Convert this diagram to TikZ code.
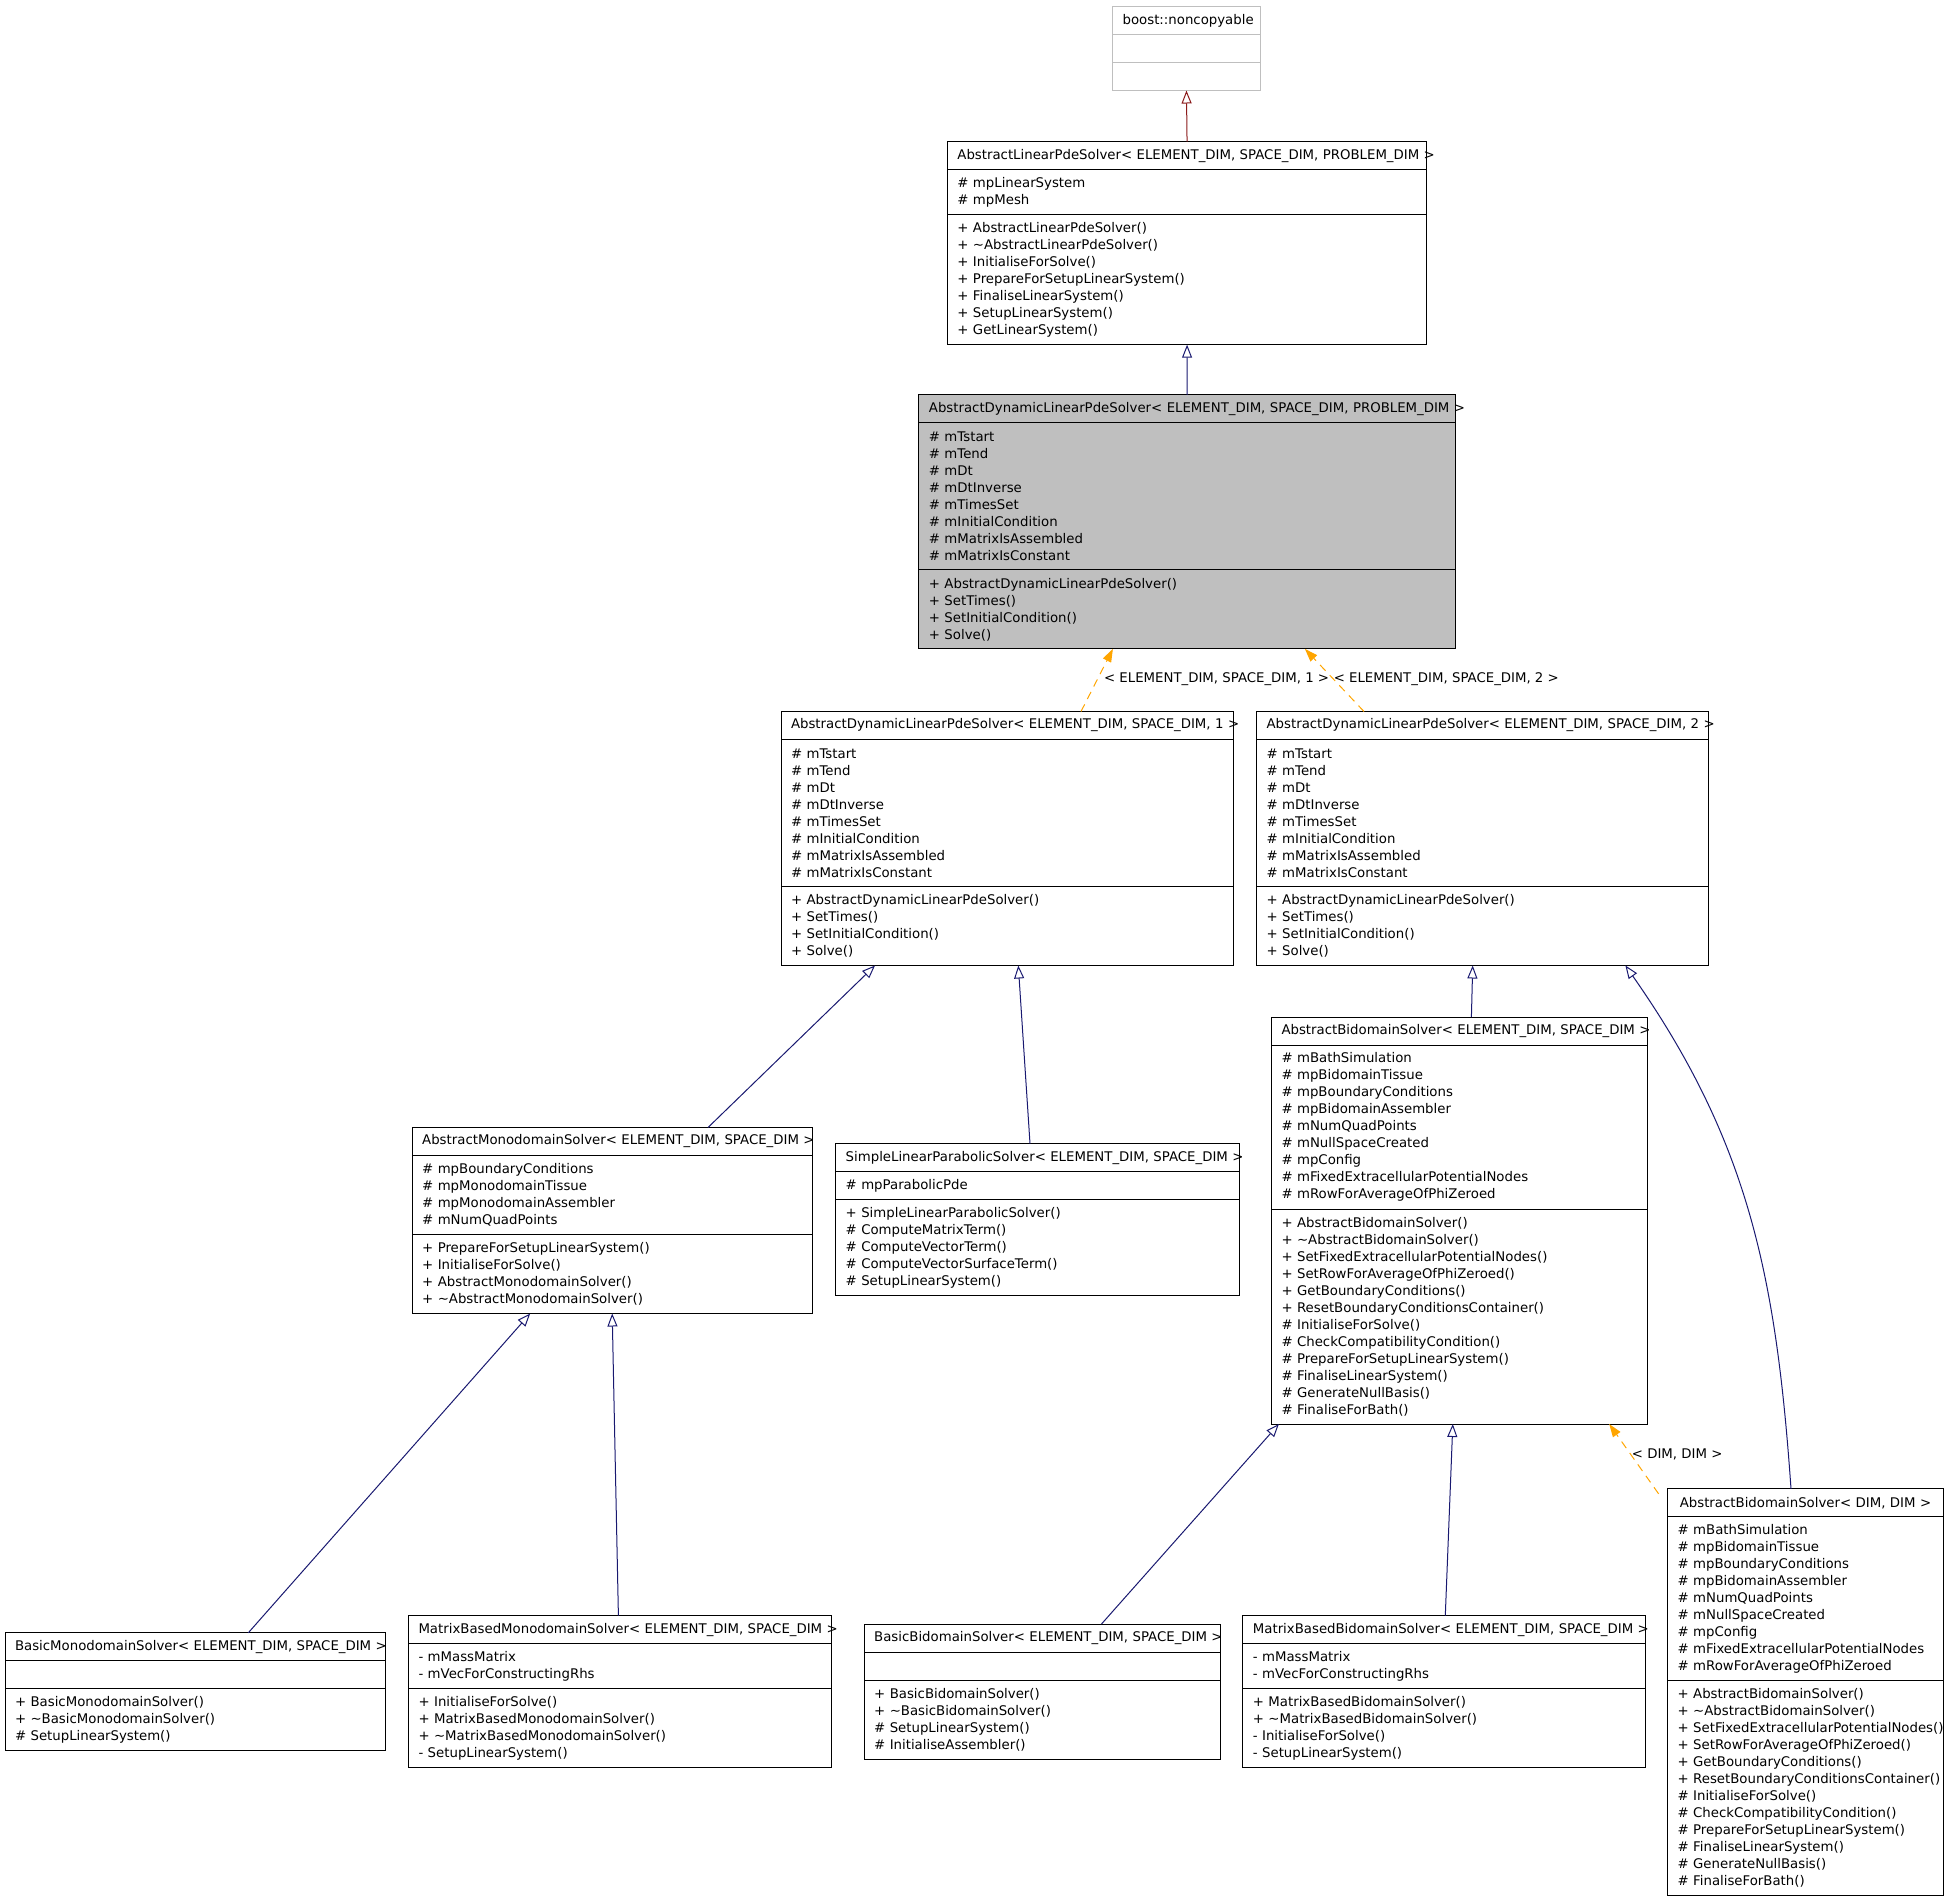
\documentclass[tikz,border=0pt]{standalone}
\usepackage{fontspec}
\setmainfont{DejaVu Sans}
\usetikzlibrary{positioning,arrows.meta}
\definecolor{midnightblue}{RGB}{25,25,112}
\definecolor{firebrick}{RGB}{139,26,26}
\definecolor{dxorange}{RGB}{255,165,0}
\definecolor{boxgray}{RGB}{191,191,191}

\begin{document}
\begin{tikzpicture}[
    x=1pt, y=-1pt,
    font=\fontsize{13.3}{17}\selectfont,
    cls/.style={rectangle, draw, line width=1pt, outer sep=0pt, inner xsep=10pt, inner ysep=0pt, align=left},
    ttl/.style={cls, align=center, anchor=north west, minimum height=28},
    wd/.style={text width=#1-20},
    rows/.style={minimum height=17*#1+11},
    inh/.style={draw=midnightblue, line width=1pt, -{Triangle[open, length=13pt, width=10pt]}},
    tmpl/.style={draw=dxorange, line width=1pt, dash pattern=on 8pt off 6pt, -{Triangle[length=13pt, width=9pt]}},
    lbl/.style={anchor=west, inner sep=2pt}
  ]
    \useasboundingbox (0,0) rectangle (1947,1901);

    % Top - boost base class
    \node[ttl, wd=147.7, draw=boxgray] (nonc) at (1112.6,6.5) {\mbox{boost::noncopyable}};
    \node[cls, wd=147.7, rows=1, draw=boxgray, below=0pt of nonc] (nonc-a) {};
    \node[cls, wd=147.7, rows=1, draw=boxgray, below=0pt of nonc-a] (nonc-m) {};

    % AbstractLinearPdeSolver
    \node[ttl, wd=479.3] (alps) at (947.4,141.7) {\mbox{AbstractLinearPdeSolver< ELEMENT\_DIM, SPACE\_DIM, PROBLEM\_DIM >}};
    \node[cls, wd=479.3, rows=2, below=0pt of alps] (alps-a) {\# mpLinearSystem\\\# mpMesh};
    \node[cls, wd=479.3, rows=7, below=0pt of alps-a] (alps-m) {+ AbstractLinearPdeSolver()\\+ \textasciitilde AbstractLinearPdeSolver()\\+ InitialiseForSolve()\\+ PrepareForSetupLinearSystem()\\+ FinaliseLinearSystem()\\+ SetupLinearSystem()\\+ GetLinearSystem()};

    % AbstractDynamicLinearPdeSolver (the class itself, grey)
    \node[ttl, wd=536.4, fill=boxgray] (adlps) at (918.9,394.9) {\mbox{AbstractDynamicLinearPdeSolver< ELEMENT\_DIM, SPACE\_DIM, PROBLEM\_DIM >}};
    \node[cls, wd=536.4, rows=8, fill=boxgray, below=0pt of adlps] (adlps-a) {\# mTstart\\\# mTend\\\# mDt\\\# mDtInverse\\\# mTimesSet\\\# mInitialCondition\\\# mMatrixIsAssembled\\\# mMatrixIsConstant};
    \node[cls, wd=536.4, rows=4, fill=boxgray, below=0pt of adlps-a] (adlps-m) {+ AbstractDynamicLinearPdeSolver()\\+ SetTimes()\\+ SetInitialCondition()\\+ Solve()};

    % Template instances, PROBLEM_DIM = 1 and 2
    \node[ttl, wd=452] (adlps1) at (781,711.5) {\mbox{AbstractDynamicLinearPdeSolver< ELEMENT\_DIM, SPACE\_DIM, 1 >}};
    \node[cls, wd=452, rows=8, below=0pt of adlps1] (adlps1-a) {\# mTstart\\\# mTend\\\# mDt\\\# mDtInverse\\\# mTimesSet\\\# mInitialCondition\\\# mMatrixIsAssembled\\\# mMatrixIsConstant};
    \node[cls, wd=452, rows=4, below=0pt of adlps1-a] (adlps1-m) {+ AbstractDynamicLinearPdeSolver()\\+ SetTimes()\\+ SetInitialCondition()\\+ Solve()};

    \node[ttl, wd=452] (adlps2) at (1256.6,711.5) {\mbox{AbstractDynamicLinearPdeSolver< ELEMENT\_DIM, SPACE\_DIM, 2 >}};
    \node[cls, wd=452, rows=8, below=0pt of adlps2] (adlps2-a) {\# mTstart\\\# mTend\\\# mDt\\\# mDtInverse\\\# mTimesSet\\\# mInitialCondition\\\# mMatrixIsAssembled\\\# mMatrixIsConstant};
    \node[cls, wd=452, rows=4, below=0pt of adlps2-a] (adlps2-m) {+ AbstractDynamicLinearPdeSolver()\\+ SetTimes()\\+ SetInitialCondition()\\+ Solve()};

    % Monodomain / parabolic branch
    \node[ttl, wd=399.8] (ams) at (412.2,1127.5) {\mbox{AbstractMonodomainSolver< ELEMENT\_DIM, SPACE\_DIM >}};
    \node[cls, wd=399.8, rows=4, below=0pt of ams] (ams-a) {\# mpBoundaryConditions\\\# mpMonodomainTissue\\\# mpMonodomainAssembler\\\# mNumQuadPoints};
    \node[cls, wd=399.8, rows=4, below=0pt of ams-a] (ams-m) {+ PrepareForSetupLinearSystem()\\+ InitialiseForSolve()\\+ AbstractMonodomainSolver()\\+ \textasciitilde AbstractMonodomainSolver()};

    \node[ttl, wd=403.5] (slps) at (835.7,1143.6) {\mbox{SimpleLinearParabolicSolver< ELEMENT\_DIM, SPACE\_DIM >}};
    \node[cls, wd=403.5, rows=1, below=0pt of slps] (slps-a) {\# mpParabolicPde};
    \node[cls, wd=403.5, rows=5, below=0pt of slps-a] (slps-m) {+ SimpleLinearParabolicSolver()\\\# ComputeMatrixTerm()\\\# ComputeVectorTerm()\\\# ComputeVectorSurfaceTerm()\\\# SetupLinearSystem()};

    % Bidomain branch
    \node[ttl, wd=376.2] (abs) at (1271.5,1017) {\mbox{AbstractBidomainSolver< ELEMENT\_DIM, SPACE\_DIM >}};
    \node[cls, wd=376.2, rows=9, below=0pt of abs] (abs-a) {\# mBathSimulation\\\# mpBidomainTissue\\\# mpBoundaryConditions\\\# mpBidomainAssembler\\\# mNumQuadPoints\\\# mNullSpaceCreated\\\# mpConfig\\\# mFixedExtracellularPotentialNodes\\\# mRowForAverageOfPhiZeroed};
    \node[cls, wd=376.2, rows=12, below=0pt of abs-a] (abs-m) {+ AbstractBidomainSolver()\\+ \textasciitilde AbstractBidomainSolver()\\+ SetFixedExtracellularPotentialNodes()\\+ SetRowForAverageOfPhiZeroed()\\+ GetBoundaryConditions()\\+ ResetBoundaryConditionsContainer()\\\# InitialiseForSolve()\\\# CheckCompatibilityCondition()\\\# PrepareForSetupLinearSystem()\\\# FinaliseLinearSystem()\\\# GenerateNullBasis()\\\# FinaliseForBath()};

    \node[ttl, wd=275.7] (absdd) at (1667.6,1488.8) {\mbox{AbstractBidomainSolver< DIM, DIM >}};
    \node[cls, wd=275.7, rows=9, below=0pt of absdd] (absdd-a) {\# mBathSimulation\\\# mpBidomainTissue\\\# mpBoundaryConditions\\\# mpBidomainAssembler\\\# mNumQuadPoints\\\# mNullSpaceCreated\\\# mpConfig\\\mbox{\# mFixedExtracellularPotentialNodes}\\\# mRowForAverageOfPhiZeroed};
    \node[cls, wd=275.7, rows=12, below=0pt of absdd-a] (absdd-m) {+ AbstractBidomainSolver()\\+ \textasciitilde AbstractBidomainSolver()\\\mbox{+ SetFixedExtracellularPotentialNodes()}\\+ SetRowForAverageOfPhiZeroed()\\+ GetBoundaryConditions()\\\mbox{+ ResetBoundaryConditionsContainer()}\\\# InitialiseForSolve()\\\# CheckCompatibilityCondition()\\\# PrepareForSetupLinearSystem()\\\# FinaliseLinearSystem()\\\# GenerateNullBasis()\\\# FinaliseForBath()};

    % Bottom row - concrete solvers
    \node[ttl, wd=380] (bms) at (5,1632.8) {\mbox{BasicMonodomainSolver< ELEMENT\_DIM, SPACE\_DIM >}};
    \node[cls, wd=380, rows=1, below=0pt of bms] (bms-a) {};
    \node[cls, wd=380, rows=3, below=0pt of bms-a] (bms-m) {+ BasicMonodomainSolver()\\+ \textasciitilde BasicMonodomainSolver()\\\# SetupLinearSystem()};

    \node[ttl, wd=423.4] (mbms) at (408.5,1615.5) {\mbox{MatrixBasedMonodomainSolver< ELEMENT\_DIM, SPACE\_DIM >}};
    \node[cls, wd=423.4, rows=2, below=0pt of mbms] (mbms-a) {- mMassMatrix\\- mVecForConstructingRhs};
    \node[cls, wd=423.4, rows=4, below=0pt of mbms-a] (mbms-m) {+ InitialiseForSolve()\\+ MatrixBasedMonodomainSolver()\\+ \textasciitilde MatrixBasedMonodomainSolver()\\- SetupLinearSystem()};

    \node[ttl, wd=356.4] (bbs) at (864.2,1624.1) {\mbox{BasicBidomainSolver< ELEMENT\_DIM, SPACE\_DIM >}};
    \node[cls, wd=356.4, rows=1, below=0pt of bbs] (bbs-a) {};
    \node[cls, wd=356.4, rows=4, below=0pt of bbs-a] (bbs-m) {+ BasicBidomainSolver()\\+ \textasciitilde BasicBidomainSolver()\\\# SetupLinearSystem()\\\# InitialiseAssembler()};

    \node[ttl, wd=402.4] (mbbs) at (1242.9,1615.5) {\mbox{MatrixBasedBidomainSolver< ELEMENT\_DIM, SPACE\_DIM >}};
    \node[cls, wd=402.4, rows=2, below=0pt of mbbs] (mbbs-a) {- mMassMatrix\\- mVecForConstructingRhs};
    \node[cls, wd=402.4, rows=4, below=0pt of mbbs-a] (mbbs-m) {+ MatrixBasedBidomainSolver()\\+ \textasciitilde MatrixBasedBidomainSolver()\\- InitialiseForSolve()\\- SetupLinearSystem()};

    % Inheritance arrows
    \draw[inh, draw=firebrick] (alps.north) -- (nonc-m.south);
    \draw[inh] (adlps.north) -- (alps-m.south);
    \draw[tmpl] ([xshift=300]adlps1.north west) -- node[lbl, pos=0.52, xshift=4] (l1) {< ELEMENT\_DIM, SPACE\_DIM, 1 >} ([xshift=194]adlps-m.south west);
    \draw[tmpl] ([xshift=107.4]adlps2.north west) -- node[lbl, pos=0.52, inner sep=0pt] (l2) {< ELEMENT\_DIM, SPACE\_DIM, 2 >} ([xshift=386]adlps-m.south west);
    \draw[inh] ([xshift=295.8]ams.north west) -- ([xshift=94]adlps1-m.south west);
    \draw[inh] ([xshift=194.3]slps.north west) -- ([xshift=237.3]adlps1-m.south west);
    \draw[inh] ([xshift=199.9]abs.north west) -- ([xshift=216.1]adlps2-m.south west);
    \draw[inh] ([xshift=123.4]absdd.north west) to[out=94, in=-55] ([xshift=368.8]adlps2-m.south west);
    \draw[inh] ([xshift=243.3]bms.north west) -- ([xshift=118]ams-m.south west);
    \draw[inh] ([xshift=209.9]mbms.north west) -- ([xshift=200]ams-m.south west);
    \draw[inh] ([xshift=237.2]bbs.north west) -- ([xshift=7.4]abs-m.south west);
    \draw[inh] ([xshift=202.4]mbbs.north west) -- ([xshift=181.3]abs-m.south west);
    \draw[tmpl] ([xshift=-9, yshift=-5]absdd.north west) -- node[lbl, pos=0.57, inner sep=1pt] (l3) {< DIM, DIM >} ([xshift=337.7]abs-m.south west);

  \end{tikzpicture}
\end{document}
